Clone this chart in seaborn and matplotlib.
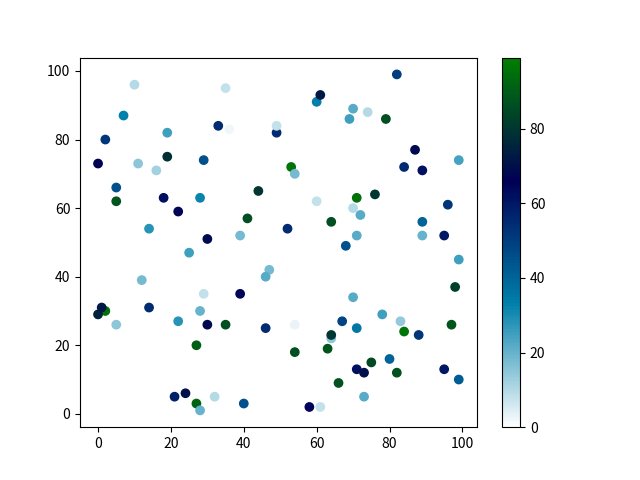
import matplotlib
matplotlib.use('Agg')
import matplotlib.pyplot as plt
import seaborn as sns
import pandas as pd

plt.rcParams['font.family'] = ['Noto Sans CJK SC', 'DejaVu Sans']

# point positions and colour values
xs = [10, 35, 7, 82, 60, 61, 70, 74, 69, 79, 2, 19, 33, 36, 49, 49, 0, 11, 19, 16,
      29, 87, 84, 89, 99, 5, 5, 18, 22, 28, 44, 53, 54, 60, 70, 71, 72, 76, 64, 14,
      41, 30, 39, 52, 68, 71, 89, 89, 95, 96, 99, 25, 12, 47, 46, 39, 29, 70, 98, 2,
      0, 1, 5, 14, 22, 28, 30, 35, 46, 54, 54, 27, 63, 64, 64, 67, 71, 78, 83, 84,
      88, 97, 95, 99, 71, 73, 75, 80, 82, 66, 73, 58, 61, 21, 24, 27, 28, 32, 40]
ys = [96, 95, 87, 99, 91, 93, 89, 88, 86, 86, 80, 82, 84, 83, 82, 84, 73, 73, 75, 71,
      74, 77, 72, 71, 74, 66, 62, 63, 59, 63, 65, 72, 70, 62, 60, 63, 58, 64, 56, 54,
      57, 51, 52, 54, 49, 52, 56, 52, 52, 61, 45, 47, 39, 42, 40, 35, 35, 34, 37, 30,
      29, 31, 26, 31, 27, 30, 26, 26, 25, 26, 18, 20, 19, 22, 23, 27, 25, 29, 27, 24,
      23, 26, 13, 10, 13, 12, 15, 16, 12, 9, 5, 2, 2, 5, 6, 3, 1, 5, 3]
cs = [10, 8, 33, 50, 33, 72, 22, 10, 25, 86, 52, 25, 55, 2, 55, 8, 66, 15, 78, 12,
      45, 68, 55, 62, 24, 45, 88, 62, 65, 32, 80, 96, 18, 8, 10, 95, 22, 80, 86, 28,
      86, 68, 18, 55, 45, 22, 40, 20, 60, 52, 25, 25, 18, 18, 22, 65, 8, 22, 82, 95,
      75, 72, 15, 55, 28, 20, 68, 86, 55, 3, 87, 90, 88, 15, 80, 48, 35, 25, 14, 96,
      52, 88, 60, 42, 62, 70, 85, 40, 87, 87, 22, 65, 8, 58, 70, 92, 20, 10, 45]

df = pd.DataFrame({'x': xs, 'y': ys, 'c': cs})
cmap = plt.get_cmap('ocean_r')
norm = plt.Normalize(0, 99)

fig, ax = plt.subplots(figsize=(6.4, 4.8), dpi=100)
sns.scatterplot(data=df, x='x', y='y', hue='c', palette=cmap, hue_norm=norm,
                legend=False, s=36, linewidth=1, edgecolor='face', ax=ax)
ax.set_xlabel('')
ax.set_ylabel('')

sm = plt.cm.ScalarMappable(cmap=cmap, norm=norm)
fig.colorbar(sm, ax=ax)

fig.savefig('out.png')
